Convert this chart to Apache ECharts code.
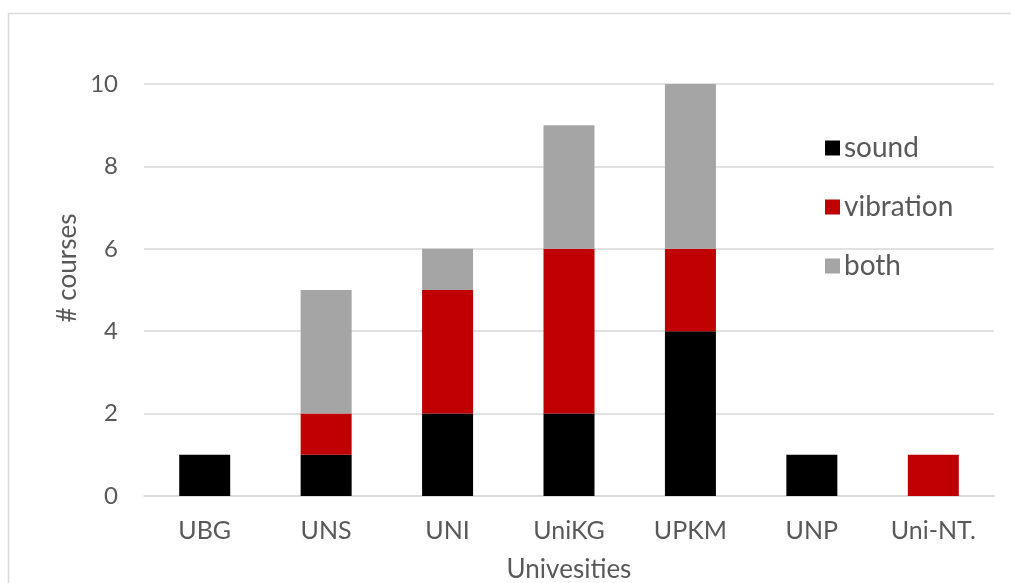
<!DOCTYPE html>
<html>
<head>
<meta charset="utf-8">
<script src="https://cdn.jsdelivr.net/npm/echarts@6/dist/echarts.min.js"></script>
<style>
html,body{margin:0;padding:0;background:#fff;}
#c{width:1011px;height:583px;}
</style>
</head>
<body>
<div id="c"></div>
<script>
const categories = ['UBG', 'UNS', 'UNI', 'UniKG', 'UPKM', 'UNP', 'Uni-NT.'];
const sound = [1, 1, 2, 2, 4, 1, 0];
const vibration = [0, 1, 3, 4, 2, 0, 1];
const both = [0, 3, 1, 3, 4, 0, 0];
const yTicks = [0, 2, 4, 6, 8, 10];

const FONT = 'Lato, "Noto Sans", sans-serif';
const TXT = '#595959';
const chart = echarts.init(document.getElementById('c'), null, {renderer: 'canvas'});
const mk = (name, data, color) => ({
  name, type: 'bar', stack: 'total', data, barWidth: '42%',
  itemStyle: {color}, emphasis: {disabled: true}
});
chart.setOption({
  animation: false,
  grid: {left: 144, right: 17, top: 84, bottom: 87, containLabel: false},
  legend: {
    orient: 'vertical', left: 820, top: 129, itemGap: 31,
    itemWidth: 15, itemHeight: 15, icon: 'rect',
    textStyle: {fontFamily: FONT, fontSize: 28, lineHeight: 28, color: TXT, padding: [0, 0, 0, -1]},
    data: ['sound', 'vibration', 'both']
  },
  xAxis: {
    type: 'category', data: categories,
    axisLine: {lineStyle: {color: '#d9d9d9', width: 1.5}},
    axisTick: {show: false},
    axisLabel: {fontFamily: FONT, fontSize: 25, color: TXT, margin: 22}
  },
  yAxis: {
    type: 'value', min: yTicks[0], max: yTicks[yTicks.length - 1], interval: 2,
    axisLine: {show: false}, axisTick: {show: false},
    splitLine: {lineStyle: {color: '#d9d9d9', width: 1.5}},
    axisLabel: {fontFamily: FONT, fontSize: 24, color: TXT, margin: 26}
  },
  graphic: [
    {type: 'rect', shape: {x: 8.5, y: 13.5, width: 1100, height: 700},
     style: {fill: 'none', stroke: '#d9d9d9', lineWidth: 1.5}, z: -10, silent: true},
    {type: 'text', x: 68, y: 268, rotation: Math.PI / 2,
     style: {text: '# courses', fontFamily: FONT, fontSize: 26, fill: TXT, align: 'center', verticalAlign: 'middle'}},
    {type: 'text', x: 569, y: 570,
     style: {text: 'Univesities', fontFamily: FONT, fontSize: 26, fill: TXT, align: 'center', verticalAlign: 'middle'}}
  ],
  series: [
    mk('sound', sound, '#000000'),
    mk('vibration', vibration, '#c00000'),
    mk('both', both, '#a5a5a5')
  ]
});
</script>
</body>
</html>
